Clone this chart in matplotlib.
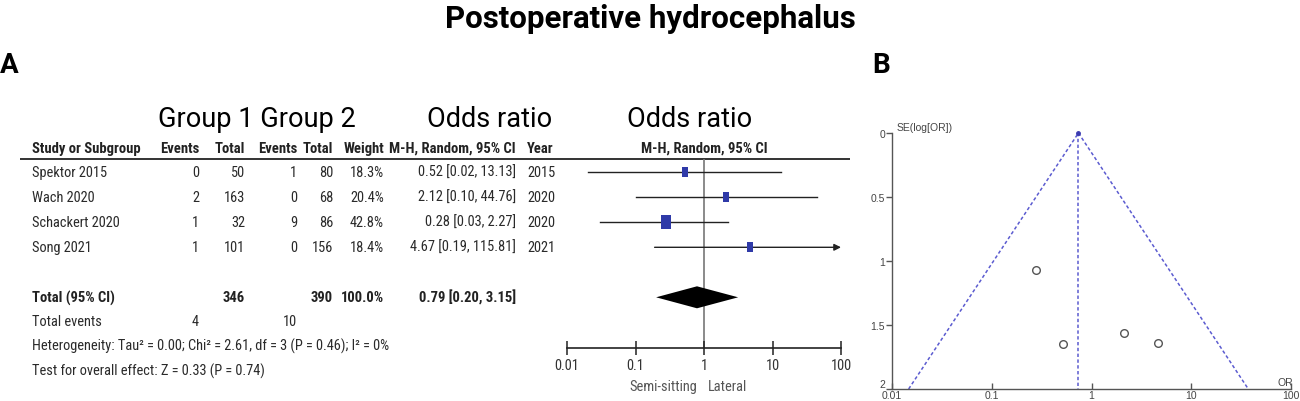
import numpy as np
import matplotlib
matplotlib.use("Agg")
import matplotlib.pyplot as plt
import matplotlib.font_manager as fm
from matplotlib.ticker import NullLocator, FixedLocator, FixedFormatter

# ---------------- data ----------------
studies = ["Spektor 2015", "Wach 2020", "Schackert 2020", "Song 2021"]
events1 = [0, 2, 1, 1]
totals1 = [50, 163, 32, 101]
events2 = [1, 0, 9, 0]
totals2 = [80, 68, 86, 156]
weights = [18.3, 20.4, 42.8, 18.4]
odds = [0.52, 2.12, 0.28, 4.67]
ci_low = [0.02, 0.10, 0.03, 0.19]
ci_high = [13.13, 44.76, 2.27, 115.81]
years = [2015, 2020, 2020, 2021]

total_n1, total_n2 = 346, 390
total_weight = 100.0
total_ev1, total_ev2 = 4, 10
pooled_or, pooled_low, pooled_high = 0.79, 0.20, 3.15
heterogeneity = "Heterogeneity: Tau\u00b2 = 0.00; Chi\u00b2 = 2.61, df = 3 (P = 0.46); I\u00b2 = 0%"
overall = "Test for overall effect: Z = 0.33 (P = 0.74)"

forest_ticks = [0.01, 0.1, 1, 10, 100]
forest_ticklabels = ["0.01", "0.1", "1", "10", "100"]

funnel_se = [1.65, 1.56, 1.07, 1.64]
funnel_center = 0.74
funnel_yticks = [0, 0.5, 1, 1.5, 2]
funnel_yticklabels = ["0", "0.5", "1", "1.5", "2"]

# ---------------- fonts ----------------
_avail = {f.name for f in fm.fontManager.ttflist}
def pick(*names, default="DejaVu Sans"):
    for n in names:
        if n in _avail:
            return n
    return default

NARROW = pick("Liberation Sans Narrow", "Arial Narrow", "Roboto Condensed", default=None)
if NARROW is None:
    NARROW = pick("Liberation Sans", "Arial")
    SC = 0.86
else:
    SC = 1.0
ROBOTO = pick("Roboto", "Inter", "Noto Sans")
PLAIN = pick("Liberation Sans", "Arial")

W, H = 1300, 402
fig = plt.figure(figsize=(W / 100, H / 100), dpi=100)

def box(x0, y0, x1, y1):
    return [x0 / W, 1 - y1 / H, (x1 - x0) / W, (y1 - y0) / H]

ax0 = fig.add_axes([0, 0, 1, 1])
ax0.set_xlim(0, W)
ax0.set_ylim(H, 0)
ax0.axis("off")

TXT = "#2a2a2a"
fs = 10.4 * SC
fsb = 10.5 * SC

# titles / panel labels
ax0.text(650, 28, "Postoperative hydrocephalus", fontsize=22.5, fontweight="bold",
         family=ROBOTO, ha="center", va="baseline", color="black")
ax0.text(0, 73, "A", fontsize=20, fontweight="bold", family=ROBOTO, ha="left", va="baseline")
ax0.text(872, 73, "B", fontsize=20, fontweight="bold", family=ROBOTO, ha="left", va="baseline")

ax0.text(257, 127, "Group 1 Group 2", fontsize=19.5, family=ROBOTO, ha="center", va="baseline")
ax0.text(490, 127, "Odds ratio", fontsize=19.5, family=ROBOTO, ha="center", va="baseline")
ax0.text(690, 127, "Odds ratio", fontsize=19.5, family=ROBOTO, ha="center", va="baseline")

# table header
hy = 149
hdr = dict(fontsize=fsb, fontweight="bold", family=NARROW, color="#222", va="center")
ax0.text(32, hy, "Study or Subgroup", ha="left", **hdr)
ax0.text(199, hy, "Events", ha="right", **hdr)
ax0.text(245, hy, "Total", ha="right", **hdr)
ax0.text(297, hy, "Events", ha="right", **hdr)
ax0.text(333, hy, "Total", ha="right", **hdr)
ax0.text(384, hy, "Weight", ha="right", **hdr)
ax0.text(516, hy, "M-H, Random, 95% CI", ha="right", **hdr)
ax0.text(527, hy, "Year", ha="left", **hdr)
ax0.text(704, hy, "M-H, Random, 95% CI", ha="center", **hdr)
ax0.plot([20, 850], [160, 160], color="#333", lw=1.4, solid_capstyle="butt")

# study rows
row0, dy = 173.3, 25.0
rows = [row0 + dy * i for i in range(len(studies))]
reg = dict(fontsize=fs, family=NARROW, color=TXT, va="center")
for y, s, e1, t1, e2, t2, w, o, lo, hi, yr in zip(rows, studies, events1, totals1, events2,
                                                   totals2, weights, odds, ci_low, ci_high, years):
    ax0.text(32, y, s, ha="left", **reg)
    ax0.text(199, y, str(e1), ha="right", **reg)
    ax0.text(245, y, str(t1), ha="right", **reg)
    ax0.text(297, y, str(e2), ha="right", **reg)
    ax0.text(333, y, str(t2), ha="right", **reg)
    ax0.text(384, y, f"{w:.1f}%", ha="right", **reg)
    ax0.text(516, y, f"{o:.2f} [{lo:.2f}, {hi:.2f}]", ha="right", **reg)
    ax0.text(527, y, str(yr), ha="left", **reg)

y_total = row0 + dy * 5
tb = dict(fontsize=fsb, fontweight="bold", family=NARROW, color="#222", va="center")
ax0.text(32, y_total, "Total (95% CI)", ha="left", **tb)
ax0.text(245, y_total, str(total_n1), ha="right", **tb)
ax0.text(333, y_total, str(total_n2), ha="right", **tb)
ax0.text(384, y_total, f"{total_weight:.1f}%", ha="right", **tb)
ax0.text(516, y_total, f"{pooled_or:.2f} [{pooled_low:.2f}, {pooled_high:.2f}]", ha="right", **tb)

y_ev = 322
ax0.text(32, y_ev, "Total events", ha="left", **reg)
ax0.text(199, y_ev, str(total_ev1), ha="right", **reg)
ax0.text(297, y_ev, str(total_ev2), ha="right", **reg)
ax0.text(32, 346.5, heterogeneity, ha="left", **reg)
ax0.text(32, 371, overall, ha="left", **reg)

# ---------------- forest plot ----------------
axf = fig.add_axes(box(567, 160, 841, 349))
axf.set_xscale("log")
axf.set_xlim(forest_ticks[0], forest_ticks[-1])
axf.set_ylim(349, 160)
axf.patch.set_visible(False)
for sp in ("top", "left", "right"):
    axf.spines[sp].set_visible(False)
axf.spines["bottom"].set_color("#222")
axf.spines["bottom"].set_linewidth(1.2)
axf.set_yticks([])
axf.xaxis.set_major_locator(FixedLocator(forest_ticks))
axf.xaxis.set_major_formatter(FixedFormatter(forest_ticklabels))
axf.xaxis.set_minor_locator(NullLocator())
axf.tick_params(axis="x", direction="inout", length=10, width=1.1, color="#222",
                labelsize=fs, labelcolor="#333", pad=2)
for lab in axf.get_xticklabels():
    lab.set_family(NARROW)
axf.axvline(1, color="#777", lw=1.2, zorder=1)

sq_color = "#2f3aa8"
rect = [(-0.62, -1), (0.62, -1), (0.62, 1), (-0.62, 1), (-0.62, -1)]
xmax = forest_ticks[-1]
for y, o, lo, hi, w in zip(rows, odds, ci_low, ci_high, weights):
    if hi > xmax:
        axf.annotate("", xy=(xmax, y), xytext=(lo, y),
                     arrowprops=dict(arrowstyle="-|>", mutation_scale=10, lw=1.0,
                                     color="#222", shrinkA=0, shrinkB=0), zorder=2)
    else:
        axf.plot([lo, hi], [y, y], color="#222", lw=1.0, zorder=2)
    axf.plot([o], [y], marker=rect, markersize=1.6 * np.sqrt(w), color=sq_color,
             markeredgewidth=0, zorder=3, linestyle="none")

axf.fill([pooled_low, pooled_or, pooled_high, pooled_or],
         [y_total, y_total - 11, y_total, y_total + 11], color="black", zorder=3, lw=0)

ax0.text(697, 387, "Semi-sitting", ha="right", va="center", fontsize=fs, family=NARROW, color="#555")
ax0.text(708, 387, "Lateral", ha="left", va="center", fontsize=fs, family=NARROW, color="#555")

# ---------------- funnel plot ----------------
axn = fig.add_axes(box(892, 134, 1291, 390))
axn.set_xscale("log")
axn.set_xlim(0.01, 100)
axn.set_ylim(2, 0)
axn.patch.set_visible(False)
for sp in ("top", "right"):
    axn.spines[sp].set_visible(False)
for sp in ("left", "bottom"):
    axn.spines[sp].set_color("#555")
    axn.spines[sp].set_linewidth(1.0)
axn.xaxis.set_major_locator(FixedLocator(forest_ticks))
axn.xaxis.set_major_formatter(FixedFormatter(forest_ticklabels))
axn.xaxis.set_minor_locator(NullLocator())
axn.yaxis.set_major_locator(FixedLocator(funnel_yticks))
axn.yaxis.set_major_formatter(FixedFormatter(funnel_yticklabels))
axn.tick_params(axis="x", direction="in", length=4, width=1, color="#555",
                labelsize=7.5, labelcolor="#444", pad=1)
axn.tick_params(axis="y", direction="out", length=4, width=1, color="#555",
                labelsize=7.5, labelcolor="#444", pad=1)
for lab in axn.get_xticklabels() + axn.get_yticklabels():
    lab.set_family(PLAIN)
axn.get_yticklabels()[-1].set_va("bottom")

ymax = funnel_yticks[-1]
fcol = "#5b5bd0"
dash = (0, (2.2, 1.6))
axn.plot([funnel_center, funnel_center], [0, ymax], color=fcol, lw=1.1, linestyle=dash)
axn.plot([funnel_center * np.exp(-1.96 * ymax), funnel_center], [ymax, 0],
         color=fcol, lw=1.1, linestyle=dash)
axn.plot([funnel_center, funnel_center * np.exp(1.96 * ymax)], [0, ymax],
         color=fcol, lw=1.1, linestyle=dash)
axn.plot([funnel_center], [0], marker="o", markersize=2.5, color="#3b3bb0", clip_on=False)
axn.plot(odds, funnel_se, linestyle="none", marker="o", markersize=5.5,
         markerfacecolor="white", markeredgecolor="#555", markeredgewidth=1.0)

ax0.text(897, 128, "SE(log[OR])", ha="left", va="center", fontsize=7.5, family=PLAIN, color="#444")
ax0.text(1293, 383, "OR", ha="right", va="center", fontsize=7.5, family=PLAIN, color="#444")

fig.savefig("out.png", dpi=100)
